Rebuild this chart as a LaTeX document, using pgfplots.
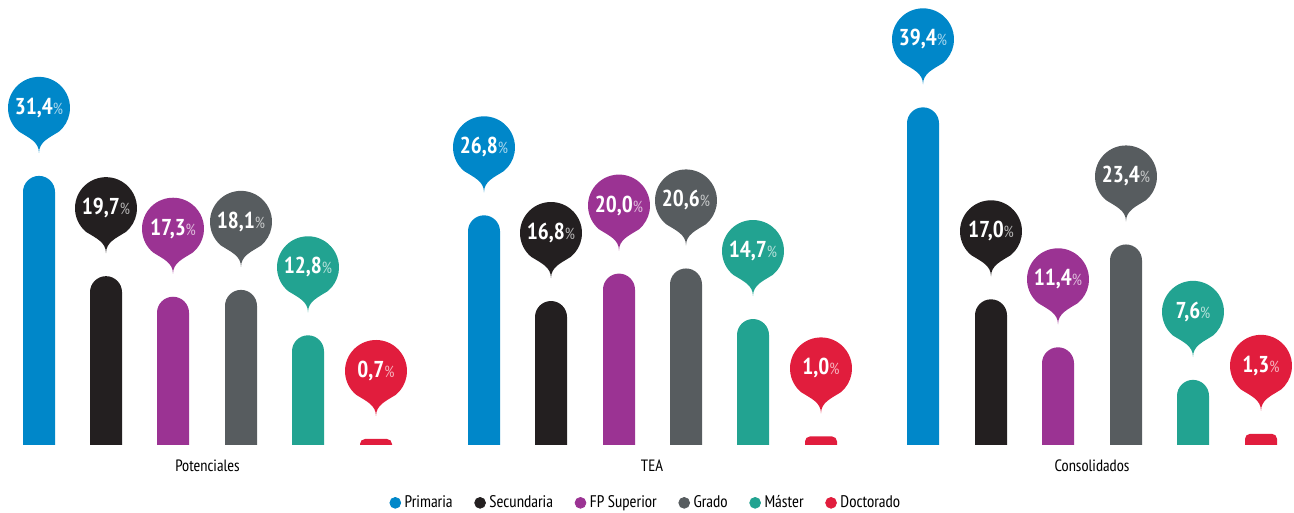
\documentclass[border=0pt]{standalone}
\usepackage{fontspec}
\setmainfont{PT Sans Narrow}
\usepackage{pgfplots}
\pgfplotsset{compat=1.18}

\definecolor{cPri}{HTML}{0087C9}
\definecolor{cSec}{HTML}{231F20}
\definecolor{cFP}{HTML}{9B3393}
\definecolor{cGra}{HTML}{575C5F}
\definecolor{cMas}{HTML}{22A391}
\definecolor{cDoc}{HTML}{E11D3D}

% speech bubble: tip 12pt above the bar top, circle centre 34pt above
\pgfdeclareplotmark{bubble}{%
  \pgfpathmoveto{\pgfpoint{0pt}{11.5pt}}%
  \pgfpathcurveto{\pgfpoint{0pt}{17pt}}{\pgfpoint{-5pt}{19pt}}{\pgfpoint{-9.96pt}{22.13pt}}%
  \pgfpatharc{-130}{-410}{15.5pt}%
  \pgfpathcurveto{\pgfpoint{5pt}{19pt}}{\pgfpoint{0pt}{17pt}}{\pgfpoint{0pt}{11.5pt}}%
  \pgfpathclose
  \pgfusepathqfill
}

\pgfplotsset{
  bar/.style={fill=#1, draw=none, rounded corners=8pt, forget plot},
  smallbar/.style={fill=#1, draw=none, rounded corners=2.5pt, forget plot},
  bub/.style={only marks, mark=bubble, mark options={fill=#1, draw=none},
    point meta=y, forget plot,
    nodes near coords={{\bfseries\pgfmathprintnumber{\pgfplotspointmeta}}{\fontsize{8}{8}\selectfont\textcolor{white!65!#1}{\%}}},
    every node near coord/.style={anchor=center, yshift=34pt, text=white,
      font=\fontsize{11.5}{12}\selectfont, inner sep=0pt}},
}

\begin{document}
\begin{tikzpicture}
\begin{axis}[
  scale only axis, width=647pt, height=222.5pt,
  xmin=0, xmax=1294, ymin=0, ymax=51.925,
  axis line style={draw=none}, tick style={draw=none},
  ytick=\empty,
  xtick={207.5,652,1092}, xticklabels={Potenciales,TEA,Consolidados},
  xticklabel style={anchor=center, yshift=-10.5pt, font=\fontsize{8.2}{9}\selectfont},
  /pgf/number format/.cd, use comma, fixed, fixed zerofill, precision=1, assume math mode=true,
  /pgfplots/.cd,
  legend columns=6,
  legend style={draw=none, at={(0.5,-0.13)}, anchor=center,
    font=\fontsize{8.4}{9}\selectfont,
    /tikz/every even column/.append style={column sep=9pt}},
  legend cell align=left,
]
% bars (rounded tops; the part below zero is clipped)
\addplot[bar=cPri] coordinates {(23,-3)(23,31.4)(55,31.4)(55,-3)} --cycle;
\addplot[bar=cPri] coordinates {(468,-3)(468,26.8)(500,26.8)(500,-3)} --cycle;
\addplot[bar=cPri] coordinates {(907,-3)(907,39.4)(939,39.4)(939,-3)} --cycle;

\addplot[bar=cSec] coordinates {(90,-3)(90,19.7)(122,19.7)(122,-3)} --cycle;
\addplot[bar=cSec] coordinates {(535,-3)(535,16.8)(567,16.8)(567,-3)} --cycle;
\addplot[bar=cSec] coordinates {(975,-3)(975,17.0)(1007,17.0)(1007,-3)} --cycle;

\addplot[bar=cFP] coordinates {(157,-3)(157,17.3)(189,17.3)(189,-3)} --cycle;
\addplot[bar=cFP] coordinates {(603,-3)(603,20.0)(635,20.0)(635,-3)} --cycle;
\addplot[bar=cFP] coordinates {(1042,-3)(1042,11.4)(1074,11.4)(1074,-3)} --cycle;

\addplot[bar=cGra] coordinates {(225,-3)(225,18.1)(257,18.1)(257,-3)} --cycle;
\addplot[bar=cGra] coordinates {(670,-3)(670,20.6)(702,20.6)(702,-3)} --cycle;
\addplot[bar=cGra] coordinates {(1110,-3)(1110,23.4)(1142,23.4)(1142,-3)} --cycle;

\addplot[bar=cMas] coordinates {(292,-3)(292,12.8)(324,12.8)(324,-3)} --cycle;
\addplot[bar=cMas] coordinates {(737,-3)(737,14.7)(769,14.7)(769,-3)} --cycle;
\addplot[bar=cMas] coordinates {(1177,-3)(1177,7.6)(1209,7.6)(1209,-3)} --cycle;

\addplot[smallbar=cDoc] coordinates {(360,-1)(360,0.7)(392,0.7)(392,-1)} --cycle;
\addplot[smallbar=cDoc] coordinates {(805,-1)(805,1.0)(837,1.0)(837,-1)} --cycle;
\addplot[smallbar=cDoc] coordinates {(1245,-1)(1245,1.3)(1277,1.3)(1277,-1)} --cycle;

% value bubbles
\addplot[bub=cPri] coordinates {(39,31.4)(484,26.8)(923,39.4)};
\addplot[bub=cSec] coordinates {(106,19.7)(551,16.8)(991,17.0)};
\addplot[bub=cFP]  coordinates {(173,17.3)(619,20.0)(1058,11.4)};
\addplot[bub=cGra] coordinates {(241,18.1)(686,20.6)(1126,23.4)};
\addplot[bub=cMas] coordinates {(308,12.8)(753,14.7)(1193,7.6)};
\addplot[bub=cDoc] coordinates {(376,0.7)(821,1.0)(1261,1.3)};

% legend
\addlegendimage{only marks, mark=*, mark size=2.7pt, color=cPri}
\addlegendentry{Primaria}
\addlegendimage{only marks, mark=*, mark size=2.7pt, color=cSec}
\addlegendentry{Secundaria}
\addlegendimage{only marks, mark=*, mark size=2.7pt, color=cFP}
\addlegendentry{FP Superior}
\addlegendimage{only marks, mark=*, mark size=2.7pt, color=cGra}
\addlegendentry{Grado}
\addlegendimage{only marks, mark=*, mark size=2.7pt, color=cMas}
\addlegendentry{Máster}
\addlegendimage{only marks, mark=*, mark size=2.7pt, color=cDoc}
\addlegendentry{Doctorado}
\end{axis}
\pgfresetboundingbox
\path[use as bounding box] ([yshift=-34pt]current axis.south west) rectangle (current axis.north east);
\end{tikzpicture}
\end{document}
